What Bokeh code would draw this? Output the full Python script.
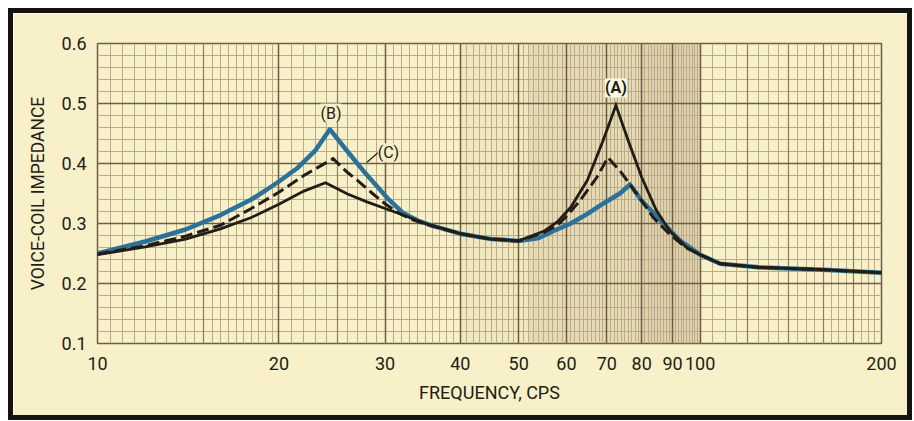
from bokeh.plotting import figure
from bokeh.models import Range1d, FixedTicker, Grid, BoxAnnotation, Label, NumeralTickFormatter
from bokeh.embed import file_html
from bokeh.resources import INLINE
import numpy as np

# ---- data ----
freq_a = [10, 12, 14, 16, 18, 20, 22, 23.9, 26, 28, 30, 32, 35, 40, 45, 50, 55, 58, 61, 65, 69, 72.5,
          76, 80, 84.6, 89, 95, 100, 108, 125, 160, 200]
imp_a = [0.248, 0.261, 0.274, 0.291, 0.31, 0.332, 0.354, 0.368, 0.349, 0.336, 0.325, 0.315, 0.300,
         0.283, 0.274, 0.271, 0.287, 0.303, 0.327, 0.372, 0.438, 0.497, 0.438, 0.377, 0.322, 0.288,
         0.260, 0.248, 0.233, 0.227, 0.223, 0.218]

freq_c = [10, 12, 14, 16, 18, 20, 22, 24.6, 26, 27, 28.6, 30, 31.5, 33, 35, 40, 45, 50, 55, 58, 60,
          63.2, 67.4, 70.3, 73.6, 78.5, 83.6, 89, 95, 100, 108, 125, 160, 200]
imp_c = [0.249, 0.263, 0.279, 0.297, 0.325, 0.352, 0.380, 0.408, 0.385, 0.372, 0.350, 0.333, 0.318,
         0.308, 0.299, 0.283, 0.274, 0.271, 0.285, 0.297, 0.312, 0.338, 0.377, 0.410, 0.388, 0.350,
         0.310, 0.282, 0.259, 0.248, 0.233, 0.227, 0.223, 0.218]

freq_b = [10, 12, 14, 16, 18, 19, 20, 21.5, 23, 24.3, 26, 27.6, 30.3, 32.2, 34, 36, 40, 45, 50, 54,
          57, 61, 65, 69, 73.6, 76.5, 80, 86, 92.5, 100, 108, 125, 160, 200]
imp_b = [0.250, 0.270, 0.290, 0.314, 0.340, 0.355, 0.370, 0.393, 0.422, 0.457, 0.420, 0.388, 0.342,
         0.317, 0.305, 0.296, 0.283, 0.274, 0.271, 0.276, 0.287, 0.300, 0.316, 0.333, 0.350, 0.365,
         0.338, 0.305, 0.272, 0.248, 0.233, 0.227, 0.223, 0.218]

x_ticks = [10, 20, 30, 40, 50, 60, 70, 80, 90, 100, 200]
y_ticks = [0.1, 0.2, 0.3, 0.4, 0.5, 0.6]

# ---- styling ----
CREAM = "#f8f0c8"
MINOR = "#bcab88"
MAJOR = "#6e5d43"
INK = "#221d15"
BLUE = "#2b7199"
FONT = "Roboto"

p = figure(width=894, height=402, x_axis_type="log",
           x_range=Range1d(10, 200), y_range=Range1d(0.1, 0.6),
           output_backend="svg", toolbar_location=None,
           min_border_left=84, min_border_right=26, min_border_top=30, min_border_bottom=72,
           background_fill_color=CREAM, border_fill_color=CREAM)
p.styles = {"margin": "13px 0px 0px 13px", "box-shadow": "0px 0px 0px 5px #14130f"}
p.outline_line_color = MAJOR
p.outline_line_width = 1.5

# background shading of the scanned paper
p.add_layout(BoxAnnotation(left=40, right=52, fill_color="#8a7a58", fill_alpha=0.07, line_color=None, level="underlay"))
p.add_layout(BoxAnnotation(left=52, right=100, fill_color="#8a7a58", fill_alpha=0.18, line_color=None, level="underlay"))
p.add_layout(BoxAnnotation(left=80, right=100, fill_color="#8a7a58", fill_alpha=0.08, line_color=None, level="underlay"))

# graph-paper grid
p.xgrid.visible = False
p.ygrid.visible = False
x_minor = list(np.arange(10, 20, 0.5)) + list(np.arange(20, 100, 1.0)) + list(np.arange(100, 201, 5.0))
y_minor = list(np.round(np.arange(0.1, 0.601, 0.02), 3))
x_mid = [15, 25, 120, 140, 160, 180]
for dim, ticks, col, w in [(0, x_minor, MINOR, 1), (1, y_minor, MINOR, 1),
                           (0, x_mid, "#8e7c5c", 1.2),
                           (0, x_ticks, MAJOR, 1.5), (1, y_ticks, MAJOR, 1.5)]:
    g = Grid(dimension=dim, ticker=FixedTicker(ticks=ticks), grid_line_color=col, grid_line_width=w)
    p.add_layout(g)

# axes
p.xaxis.ticker = FixedTicker(ticks=x_ticks)
p.yaxis.ticker = FixedTicker(ticks=y_ticks)
p.xaxis.formatter = NumeralTickFormatter(format="0")
p.yaxis.formatter = NumeralTickFormatter(format="0.0")
for ax in (p.xaxis, p.yaxis):
    ax.axis_line_color = None
    ax.major_tick_line_color = None
    ax.minor_tick_line_color = None
    ax.major_label_text_font = FONT
    ax.major_label_text_font_size = "18px"
    ax.major_label_text_color = INK
    ax.axis_label_text_font = FONT
    ax.axis_label_text_font_style = "normal"
    ax.axis_label_text_color = INK
p.xaxis.axis_label_text_font_size = "18px"
p.yaxis.axis_label_text_font_size = "17.5px"
p.xaxis.axis_label = "FREQUENCY, CPS"
p.yaxis.axis_label = "VOICE-COIL IMPEDANCE"
p.xaxis.major_label_standoff = 7
p.yaxis.major_label_standoff = 5
p.xaxis.axis_label_standoff = 9
p.yaxis.axis_label_standoff = 11

# curves
p.line(freq_b, imp_b, line_color=BLUE, line_width=4.5, line_join="round", line_cap="round")
p.line(freq_c, imp_c, line_color=INK, line_width=3, line_dash="12 5", line_join="miter")
p.line(freq_a, imp_a, line_color=INK, line_width=2.8, line_join="miter", line_cap="round")

# curve labels
p.add_layout(Label(x=24.4, y=0.484, text="(B)", text_align="center", text_baseline="middle",
                   text_font=FONT, text_font_size="16px", text_color=INK,
                   background_fill_color=CREAM, background_fill_alpha=0.9))
p.add_layout(Label(x=30.4, y=0.418, text="(C)", text_align="center", text_baseline="middle",
                   text_font=FONT, text_font_size="16px", text_color=INK,
                   background_fill_color=CREAM, background_fill_alpha=0.9))
p.add_layout(Label(x=72.5, y=0.526, text="(A)", text_align="center", text_baseline="middle",
                   text_font=FONT, text_font_size="16px", text_font_style="bold", text_color=INK,
                   background_fill_color="#fbf8e6", background_fill_alpha=1.0))
p.line([28.0, 29.2], [0.402, 0.418], line_color=INK, line_width=1.2)

open("out.html", "w").write(file_html(p, INLINE))
